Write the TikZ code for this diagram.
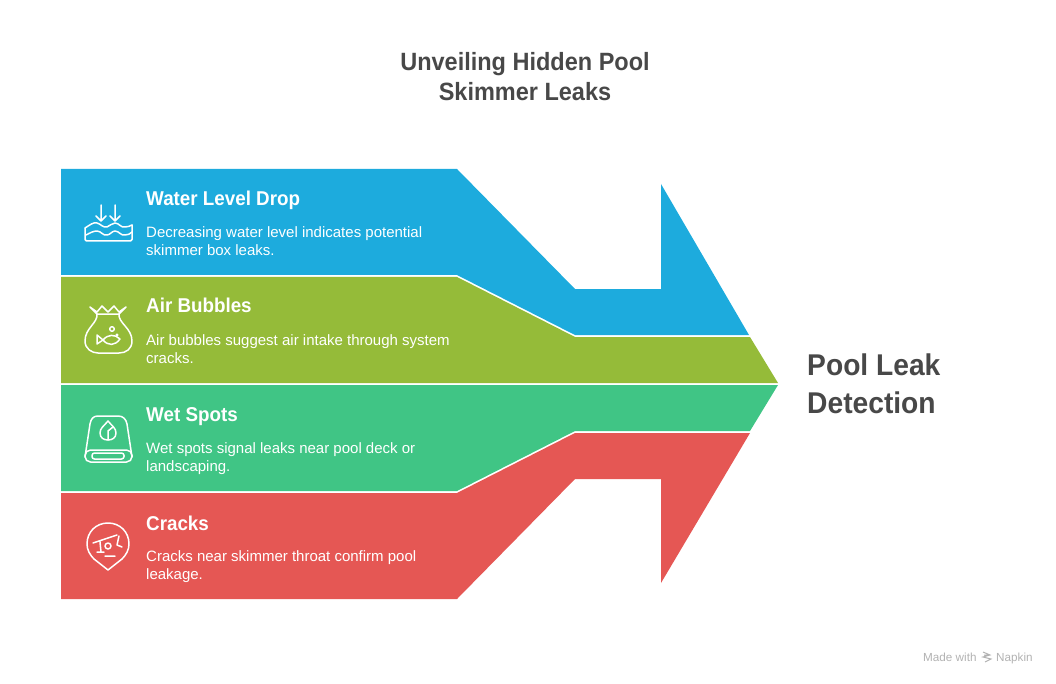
\documentclass[tikz,border=0pt]{standalone}
\usepackage{fontspec}
\usepackage{xcolor}
\setmainfont{Liberation Sans}[BoldFeatures={FakeStretch=0.94}]
\usetikzlibrary{positioning,calc}
\definecolor{levelblue}{RGB}{29,171,221}
\definecolor{bubbleolive}{RGB}{149,187,57}
\definecolor{spotgreen}{RGB}{64,197,133}
\definecolor{crackred}{RGB}{229,87,84}
\definecolor{inkgrey}{RGB}{72,72,72}
\begin{document}
\begin{tikzpicture}[
    x=1pt, y=-1pt,
    head/.style={font=\bfseries\fontsize{20}{22}\selectfont, text=white, anchor=base west, inner sep=0pt},
    body/.style={font=\fontsize{15}{18}\selectfont, text=white, anchor=base west, inner sep=0pt, align=left},
    title/.style={font=\bfseries\fontsize{25}{30}\selectfont, text=inkgrey, inner sep=0pt, align=center},
    goal/.style={font=\bfseries\fontsize{30}{38}\selectfont, text=inkgrey, inner sep=0pt, align=left},
    foot/.style={font=\fontsize{11.7}{13}\selectfont, text=black!30, anchor=base west, inner sep=0pt},
    icon/.style={draw=white, line width=1.5pt, line cap=round, line join=round},
]
    \useasboundingbox (0,0) rectangle (1056,684);
    % bands of the arrow
    \fill[levelblue] (61,169) -- (457,169) -- (575,289) -- (661,289) -- (661,184) -- (749,335) -- (575,335) -- (457,275) -- (61,275) -- cycle;
    \fill[bubbleolive] (61,277) -- (457,277) -- (575,337) -- (750,337) -- (778,383) -- (61,383) -- cycle;
    \fill[spotgreen] (61,385) -- (778,385) -- (750,431) -- (575,431) -- (457,491) -- (61,491) -- cycle;
    \fill[crackred] (61,493) -- (457,493) -- (575,433) -- (750,433) -- (661,583) -- (661,479) -- (575,479) -- (457,599) -- (61,599) -- cycle;
    % title
    \node[title] (heading) at (525,77) {Unveiling Hidden Pool\\Skimmer Leaks};
    \node[goal, anchor=west] (target) at (807,384) {Pool Leak\\Detection};
    % band texts
    \node[head] (t1) at (146,206) {Water Level Drop};
    \node[body] (b1) at (146,238) {Decreasing water level indicates potential};
    \node[body] (c1) at (146,256) {skimmer box leaks.};
    \node[head] (t2) at (146,312) {Air Bubbles};
    \node[body] (b2) at (146,345) {Air bubbles suggest air intake through system};
    \node[body] (c2) at (146,363) {cracks.};
    \node[head] (t3) at (146,421) {Wet Spots};
    \node[body] (b3) at (146,453) {Wet spots signal leaks near pool deck or};
    \node[body] (c3) at (146,471) {landscaping.};
    \node[head] (t4) at (146,530) {Cracks};
    \node[body] (b4) at (146,561) {Cracks near skimmer throat confirm pool};
    \node[body] (c4) at (146,579) {leakage.};
    % water icon
    \draw[icon] (101,205) -- (101,221) (96,216) -- (101,221) -- (106,216);
    \draw[icon] (115,205) -- (115,221) (110,216) -- (115,221) -- (120,216);
    \draw[icon] (85,228) .. controls (90,225) and (93,222) .. (97,223) .. controls (101,224) and (103,228) .. (107,227) .. controls (110,226) and (112,223) .. (115,223) .. controls (119,223) and (121,228) .. (125,227) .. controls (128,227) and (130,226) .. (132,225);
    \draw[icon] (86,235) .. controls (90,233) and (93,231) .. (97,231) .. controls (101,231) and (103,236) .. (107,235) .. controls (110,235) and (112,231) .. (115,231) .. controls (119,231) and (121,236) .. (125,235) .. controls (128,235) and (130,234) .. (132,232);
    \draw[icon, rounded corners=1.5pt] (85,228) -- (85,241) -- (132,241) -- (132,225);
    % bag icon
    \draw[icon] (90,307) -- (97,314) -- (119,314) -- (126,307) -- (119,312) -- (114,306) -- (108,312) -- (102,306) -- (97,312) -- cycle;
    \draw[icon] (97,314) .. controls (98,323) and (85,328) .. (85,341) .. controls (85,349) and (92,353) .. (98,353) -- (119,353) .. controls (126,353) and (132,349) .. (132,341) .. controls (132,328) and (118,323) .. (119,314);
    \draw[icon] (103,340) .. controls (108,334) and (115,334) .. (120,339) .. controls (115,346) and (108,346) .. (103,340) -- (97,344) -- (97,335) -- cycle;
    \draw[icon] (112,329) circle (2.3pt) (117,335) circle (.8pt);
    % towel icon
    \draw[icon] (85,457) -- (90,424) .. controls (91,419) and (93,416) .. (98,416) -- (118,416) .. controls (123,416) and (126,419) .. (127,424) -- (132,457);
    \draw[icon, rounded corners=5.5pt] (85,450) rectangle (132,462);
    \draw[icon, rounded corners=2.5pt] (92,453) rectangle (124,459);
    \draw[icon] (108,421) .. controls (112,426) and (116,428) .. (116,433) .. controls (116,438) and (112,440) .. (108,440) .. controls (104,440) and (100,438) .. (100,433) .. controls (100,428) and (104,426) .. (108,421) -- cycle;
    \draw[icon] (108,440) -- (108,431) -- (113,427);
    % pin icon
    \draw[icon] (108,570) -- (94,559) .. controls (90,555) and (87,550) .. (87,544) .. controls (87,532) and (96,523) .. (108,523) .. controls (120,523) and (129,532) .. (129,544) .. controls (129,550) and (126,555) .. (122,559) -- cycle;
    \draw[icon] (93,543) -- (117,535) (100,542) -- (101,552) (97,552) -- (104,552) (105,556) -- (115,556);
    \draw[icon] (108,546) circle (3pt);
    \draw[icon] (119,536) -- (117,545) -- (122,547);
    % footer
    \node[foot] (made) at (923,661) {Made with};
    \node[foot] (napkin) at (996,661) {Napkin};
    \draw[black!30, line width=1pt] (983,652) -- (990,655) -- (983,657) -- (991,659) -- (985,662) (984,655) -- (988,655);
\end{tikzpicture}
\end{document}
